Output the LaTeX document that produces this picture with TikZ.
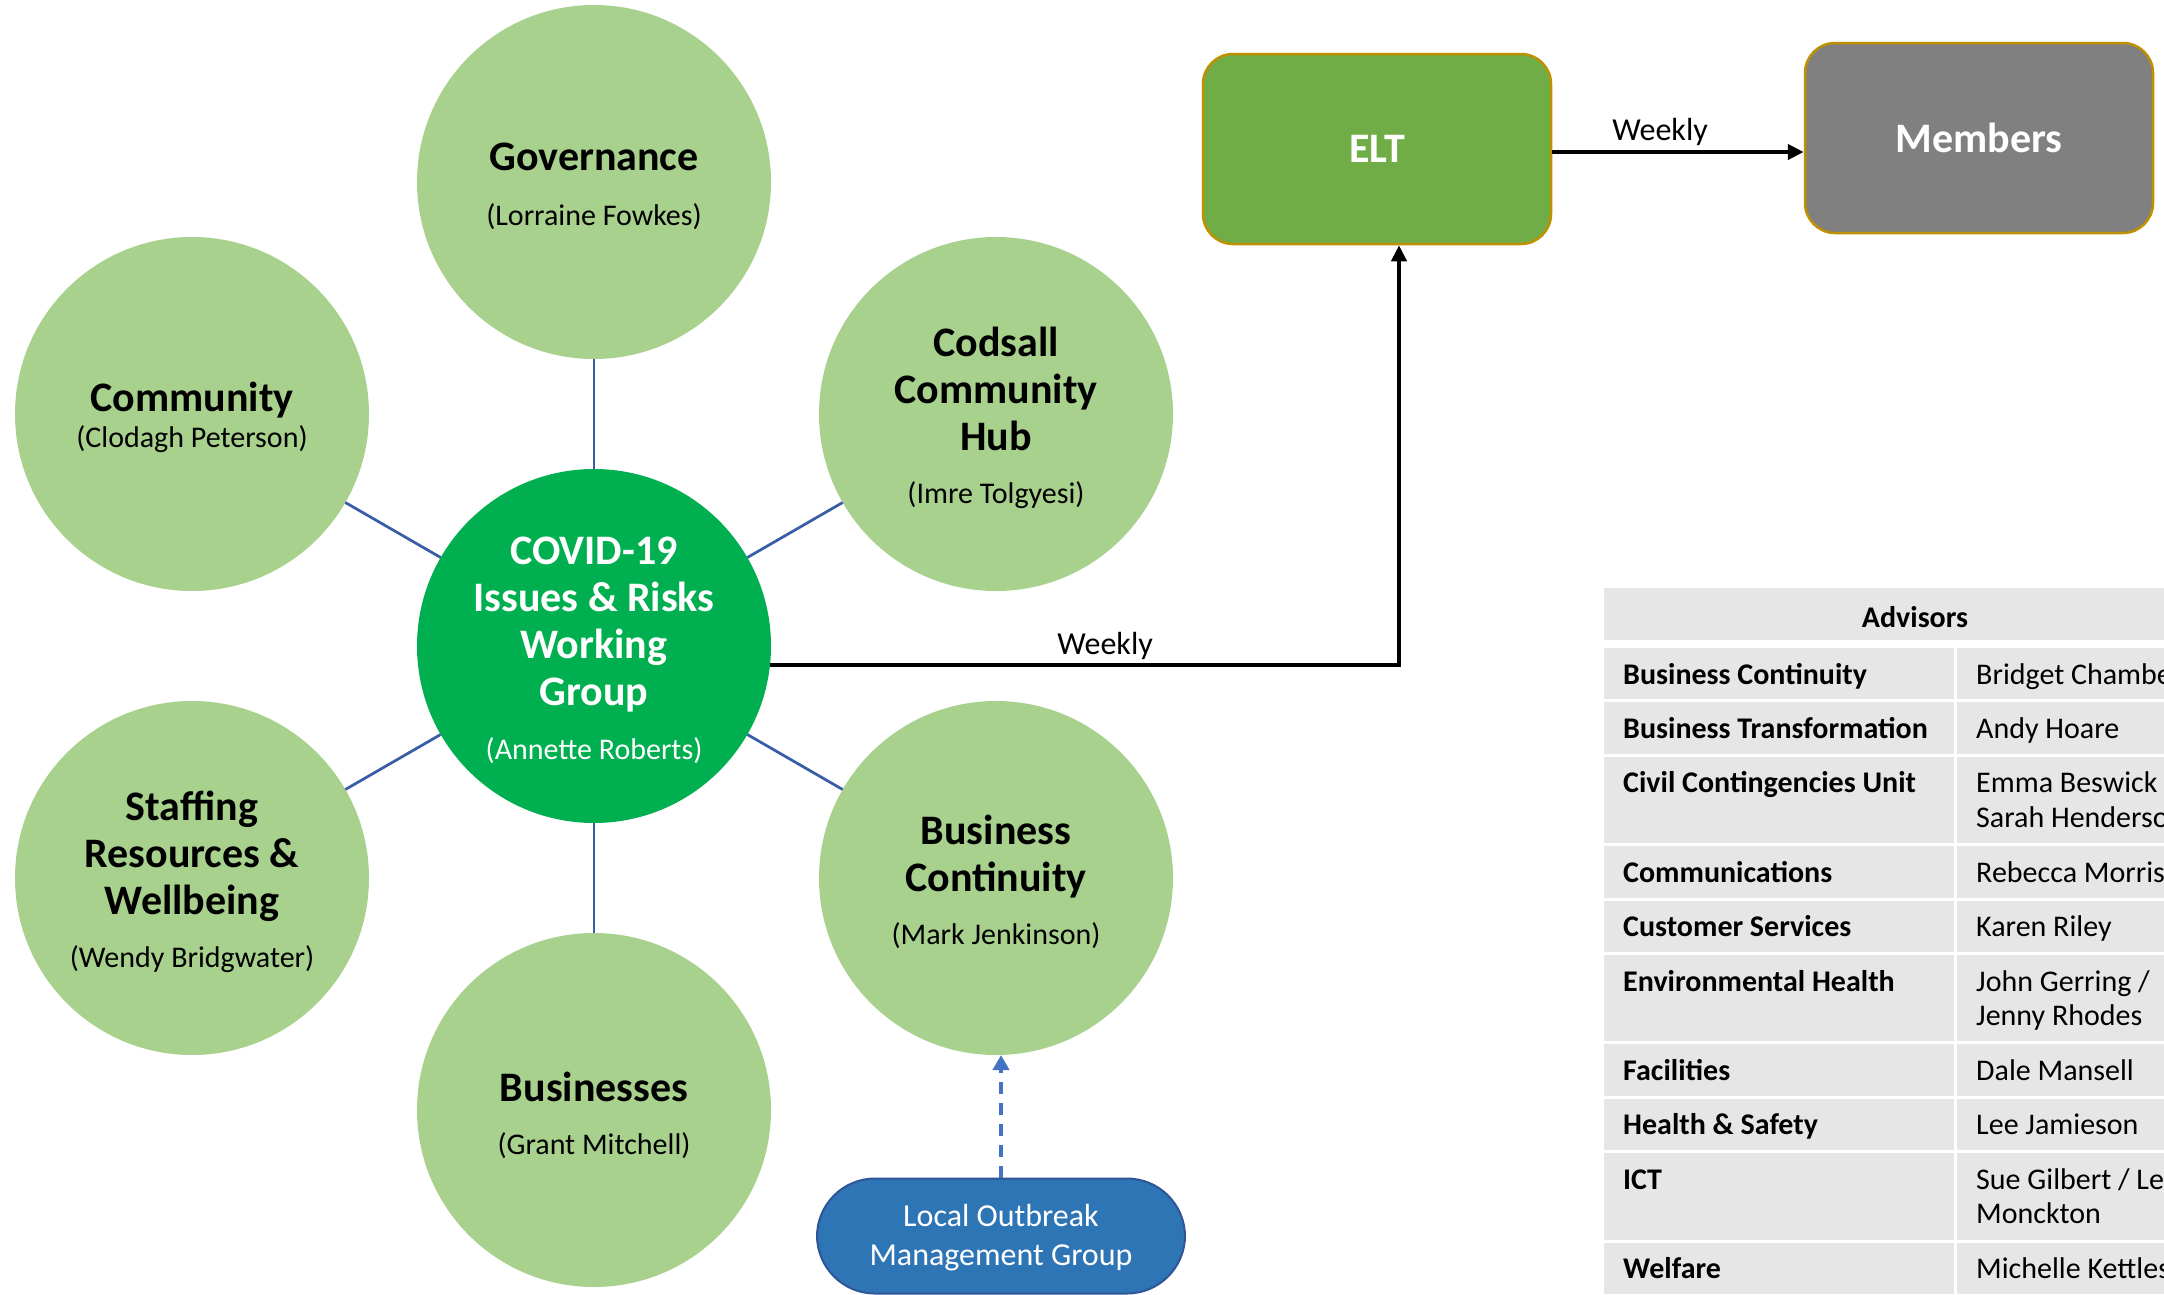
\documentclass[tikz,border=0pt]{standalone}
\usepackage{fontspec}
\setmainfont{Carlito}
\usetikzlibrary{arrows.meta}
\definecolor{topicgreen}{HTML}{A9D18E}
\definecolor{hubgreen}{HTML}{00B050}
\definecolor{eltgreen}{HTML}{70AD47}
\definecolor{boxgold}{HTML}{BF9000}
\definecolor{membergrey}{HTML}{808080}
\definecolor{spokeblue}{HTML}{3A5DA8}
\definecolor{lomgblue}{HTML}{2E75B6}
\definecolor{lomgedge}{HTML}{2F5597}
\definecolor{dashblue}{HTML}{4472C4}
\definecolor{rowgrey}{HTML}{E7E6E6}

\newcommand{\bigbold}{\fontsize{42}{47}\selectfont\bfseries}
\newcommand{\smalltext}{\fontsize{30}{34.5}\selectfont}
\newcommand{\lomgtext}{\fontsize{32}{38.5}\selectfont}
\newcommand{\weeklytext}{\fontsize{32}{38}\selectfont}

\tikzset{
  topic/.style={circle, fill=topicgreen, minimum size=354pt, inner sep=0pt, outer sep=0pt},
  topictitle/.style={font=\bigbold, align=center, anchor=base, inner sep=0pt},
  topicname/.style={font=\smalltext, anchor=base, inner sep=0pt},
  spoke/.style={draw=spokeblue, line width=2.75pt},
  flow/.style={draw=black, line width=4pt, -{Triangle[length=16pt,width=15pt]}},
  board/.style={rectangle, rounded corners=30pt, draw=boxgold, line width=2.5pt,
    minimum width=348pt, minimum height=190pt, font=\bigbold, text=white},
  advarea/.style={font=\smalltext\bfseries, anchor=base west, align=left, inner sep=0pt},
  advwho/.style={font=\smalltext, anchor=base west, align=left, inner sep=0pt}
}

\begin{document}
\begin{tikzpicture}[x=1pt, y=-1pt]

    % Page
    \fill[white] (0,0) rectangle (2164,1294);
    \useasboundingbox (0,0) rectangle (2164,1294);

    % Topic circles round the working group
    \node[topic] (gov) at (594,182) {};
    \node[topic] (comm) at (192,414) {};
    \node[topic] (cods) at (996,414) {};
    \node[topic, fill=hubgreen] (ctr) at (594,646) {};
    \node[topic] (staff) at (192,878) {};
    \node[topic] (bc) at (996,878) {};
    \node[topic] (bus) at (594,1110) {};

    % Spokes
    \foreach \t in {gov,cods,bc,bus,staff,comm} {
        \draw[spoke] (ctr) -- (\t);
    }

    % Circle texts (base = last line)
    \node[topictitle] (gov-t) at (594,170) {Governance};
    \node[topicname] (gov-n) at (594,225) {(Lorraine Fowkes)};
    \node[topictitle] (comm-t) at (192,411) {Community};
    \node[topicname] (comm-n) at (192,447) {(Clodagh Peterson)};
    \node[topictitle] (cods-t) at (996,450) {Codsall\\Community\\Hub};
    \node[topicname] (cods-n) at (996,503) {(Imre Tolgyesi)};
    \node[topictitle, text=white] (ctr-t) at (594,705) {COVID-19\\Issues \& Risks\\Working\\Group};
    \node[topicname, text=white] (ctr-n) at (594,759) {(Annette Roberts)};
    \node[topictitle] (staff-t) at (192,914) {Staffing\\Resources \&\\Wellbeing};
    \node[topicname] (staff-n) at (192,967) {(Wendy Bridgwater)};
    \node[topictitle] (bc-t) at (996,891) {Business\\Continuity};
    \node[topicname] (bc-n) at (996,944) {(Mark Jenkinson)};
    \node[topictitle] (bus-t) at (594,1101) {Businesses};
    \node[topicname] (bus-n) at (594,1154) {(Grant Mitchell)};

    % ELT and Members
    \node[board, fill=eltgreen] (elt) at (1377,149) {ELT};
    \node[board, fill=membergrey] (members) at (1979,138) {Members};

    % Weekly reporting
    \draw[flow] (ctr.-6) -| ([xshift=22pt]elt.south);
    \draw[flow] ([yshift=-3pt]elt.east) -- ([yshift=-3pt]elt.east -| members.west);
    \node[topicname, font=\weeklytext] (wk-mid) at (1105,654) {Weekly};
    \node[topicname, font=\weeklytext] (wk-top) at (1660,140) {Weekly};

    % Local Outbreak Management Group
    \node[rectangle, rounded corners=58pt, fill=lomgblue, draw=lomgedge, line width=2pt,
      minimum width=368pt, minimum height=115pt, font=\lomgtext, text=white, align=center]
      (lomg) at (1001,1236) {};
    \node[font=\lomgtext, text=white, align=center, anchor=base, inner sep=0pt]
      (lomg-t) at (1001,1265) {Local Outbreak\\Management Group};
    \draw[draw=dashblue, line width=4pt, dash pattern=on 12pt off 9pt,
      -{Triangle[length=15pt,width=16pt]}] (lomg.north) -- (lomg.north |- bc.south);

    % Advisors table (base = last line)
    \fill[rowgrey] (1604,588) rectangle (2164,640);
    \node[font=\smalltext\bfseries, anchor=base, inner sep=0pt] (adv) at (1915,627) {Advisors};
    \foreach \y/\h/\n/\area/\who [count=\i] in {
        648/51.4/0/Business Continuity/Bridget Chambe,
        702.4/51.4/0/Business Transformation/Andy Hoare,
        756.8/86.4/1/Civil Contingencies Unit/{Emma Beswick /\\Sarah Henderso},
        846.2/51.4/0/Communications/Rebecca Morris,
        900.6/51.4/0/Customer Services/Karen Riley,
        955/86.4/1/Environmental Health/{John Gerring /\\Jenny Rhodes},
        1044.4/51.4/0/Facilities/Dale Mansell,
        1098.8/51.4/0/Health \& Safety/Lee Jamieson,
        1153.2/86.4/1/ICT/{Sue Gilbert / Lea\\Monckton},
        1242.6/51.4/0/Welfare/Michelle Kettles} {
        \fill[rowgrey] (1604,\y) rectangle (1954,\y+\h);
        \fill[rowgrey] (1957,\y) rectangle (2164,\y+\h);
        \node[advarea] (area\i) at (1623,\y+36) {\area};
        \node[advwho] (who\i) at (1976,\y+36+34.5*\n) {\who};
    }

\end{tikzpicture}
\end{document}
